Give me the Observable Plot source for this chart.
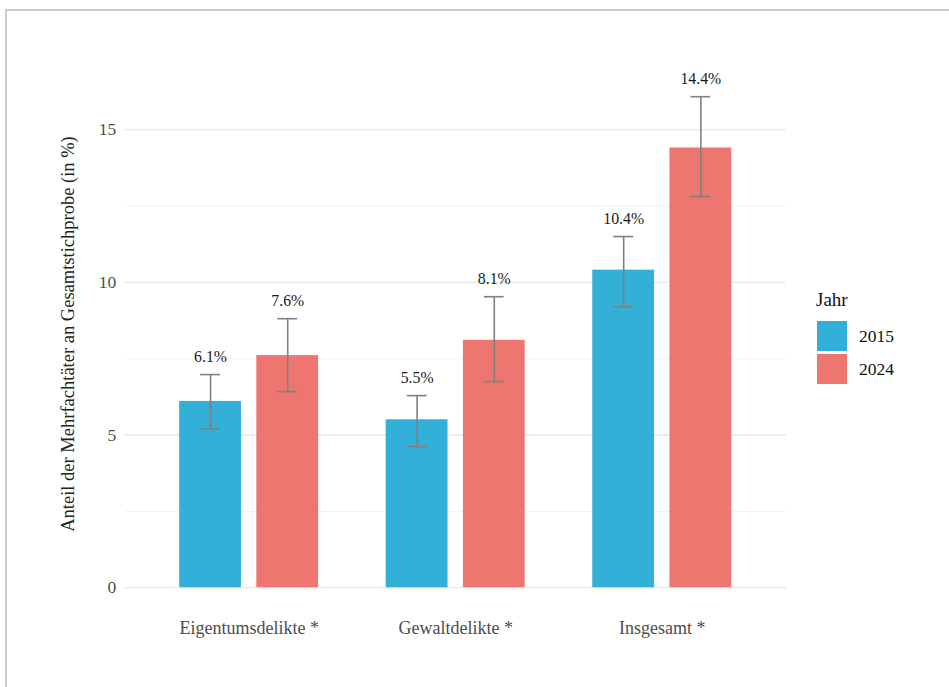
<!DOCTYPE html>
<html>
<head>
<meta charset="utf-8">
<script src="https://cdn.jsdelivr.net/npm/d3@7"></script>
<script src="https://cdn.jsdelivr.net/npm/@observablehq/plot@0.6"></script>
<style>
  html, body { margin: 0; padding: 0; background: #fff; }
  body { width: 949px; height: 687px; position: relative; overflow: hidden; font-family: "Liberation Serif", "DejaVu Serif", serif; }
  #frame { position: absolute; left: 5px; top: 9px; width: 960px; height: 700px; border-left: 2px solid #cccccc; border-top: 2px solid #cccccc; box-sizing: border-box; }
  .layer { position: absolute; left: 0; top: 0; }
  #ytitle { position: absolute; left: 68px; top: 334px; transform: translate(-50%, -50%) rotate(-90deg); white-space: nowrap; font-size: 18.5px; color: #222; }
  #legend { position: absolute; left: 816px; top: 289px; color: #111; }
  #legend .title { font-size: 19px; line-height: 22px; margin-bottom: 10px; }
  #legend .row { display: flex; align-items: center; height: 30px; margin-bottom: 3px; }
  #legend .sw { width: 30px; height: 30px; margin-right: 12px; margin-left: 1px; }
  #legend .lab { font-size: 17.5px; }
</style>
</head>
<body>
<div id="frame"></div>
<div id="bg" class="layer"></div>
<div id="fg" class="layer"></div>
<div id="ytitle">Anteil der Mehrfachtäter an Gesamtstichprobe (in %)</div>
<div id="legend"></div>
<script>
const categories = ["Eigentumsdelikte *", "Gewaltdelikte *", "Insgesamt *"];
const years = ["2015", "2024"];
const colors = ["#33b0d7", "#ee7570"];
const values2015 = [6.1, 5.5, 10.4];
const values2024 = [7.6, 8.1, 14.4];
const lower2015 = [5.2, 4.62, 9.2];
const upper2015 = [6.98, 6.29, 11.5];
const lower2024 = [6.42, 6.75, 12.81];
const upper2024 = [8.81, 9.53, 16.08];
const majorTicks = [0, 5, 10, 15];
const minorTicks = [2.5, 7.5, 12.5];

const FONT = "Liberation Serif";

const data = [];
categories.forEach((c, i) => {
  data.push({cat: c, year: years[0], value: values2015[i], lo: lower2015[i], hi: upper2015[i]});
  data.push({cat: c, year: years[1], value: values2024[i], lo: lower2024[i], hi: upper2024[i]});
});

const common = {
  width: 949,
  height: 687,
  marginLeft: 124.7,
  marginRight: 163.3,
  marginTop: 71,
  marginBottom: 74,
  style: {background: "transparent"},
  y: {domain: [-0.845, 16.905], label: null}
};

// background layer: grid and y axis spanning the whole panel
const bg = Plot.plot({
  ...common,
  marks: [
    Plot.ruleY(minorTicks, {stroke: "#f2f2f2", strokeWidth: 1}),
    Plot.ruleY(majorTicks, {stroke: "#e6e6e6", strokeWidth: 1.3}),
    Plot.axisY(majorTicks, {tickSize: 0, tickPadding: 9, fontSize: 17.5, fontFamily: FONT, fill: "#4d4d4d", label: null})
  ]
});
document.getElementById("bg").appendChild(bg);

// foreground layer: grouped bars with error bars
const fg = Plot.plot({
  ...common,
  fx: {domain: categories, paddingInner: 0.3272, paddingOuter: 0.2636, round: false, label: null},
  x: {domain: years, paddingInner: 0.1995, paddingOuter: 0, round: false, axis: null},
  y: {domain: [-0.845, 16.905], label: null, axis: null},
  color: {domain: years, range: colors},
  marks: [
    Plot.axisFx({anchor: "bottom", tickSize: 0, tickPadding: 8, fontSize: 18, fontFamily: FONT, fill: "#4d4d4d", label: null}),
    Plot.barY(data, {fx: "cat", x: "year", y: "value", fill: "year"}),
    Plot.ruleX(data, {fx: "cat", x: "year", y1: "lo", y2: "hi", stroke: "#808080", strokeWidth: 1.6}),
    Plot.tickY(data, {fx: "cat", x: "year", y: "lo", stroke: "#808080", strokeWidth: 1.6, insetLeft: 21, insetRight: 21}),
    Plot.tickY(data, {fx: "cat", x: "year", y: "hi", stroke: "#808080", strokeWidth: 1.6, insetLeft: 21, insetRight: 21}),
    Plot.text(data, {fx: "cat", x: "year", y: "hi", text: d => d.value.toFixed(1) + "%", dy: -18, fontSize: 15.8, fontFamily: FONT, fill: "#1a1a1a"})
  ]
});
document.getElementById("fg").appendChild(fg);

for (const svg of [bg, fg]) {
  svg.style.fontFamily = FONT;
  svg.querySelectorAll("text").forEach(t => t.style.fontFamily = FONT);
}

const legend = document.getElementById("legend");
legend.innerHTML = '<div class="title">Jahr</div>' + years.map((y, i) =>
  `<div class="row"><div class="sw" style="background:${colors[i]}"></div><div class="lab">${y}</div></div>`).join("");
</script>
</body>
</html>
